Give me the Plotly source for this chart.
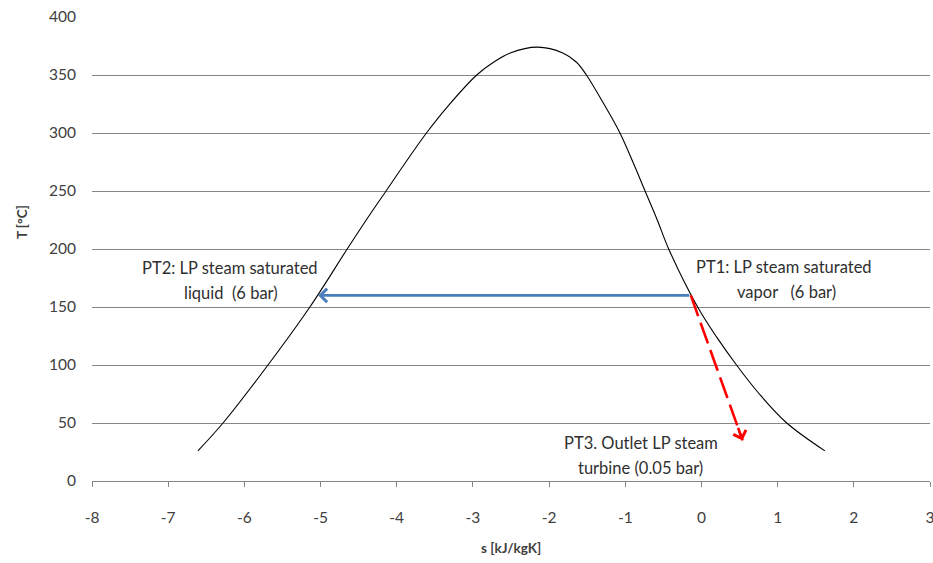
import plotly.graph_objects as go

# Saturation dome of water (T-s diagram), entropy on a shifted reference
dome_s = [-6.61, -6.28, -5.69, -5.14, -4.65, -4.40, -4.14, -3.88, -3.61, -3.33,
          -2.95, -2.73, -2.51, -2.15, -1.82, -1.64, -1.51, -1.29, -1.07, -0.90,
          -0.74, -0.58, -0.43, -0.05, 0.20, 0.46, 0.76, 1.12, 1.62]
dome_T = [26, 50, 100, 150, 200, 225, 250, 275, 300, 323,
          350, 361, 369, 374, 369, 361, 350, 326, 300, 275,
          250, 225, 200, 150, 124, 100, 75, 50, 26]

# State points
pt1 = (-0.14, 160)   # LP steam saturated vapor (6 bar)
pt2 = (-5.03, 160)   # LP steam saturated liquid (6 bar)
pt3 = (0.54, 35)     # outlet LP steam turbine (0.05 bar)

x_ticks = [-8, -7, -6, -5, -4, -3, -2, -1, 0, 1, 2, 3]
y_ticks = [0, 50, 100, 150, 200, 250, 300, 350, 400]

FONT = "Lato"
TXT = "#404040"
LBL = "#2f2f2f"
BLUE = "#4a7ebb"
RED = "#ff0000"

fig = go.Figure()

fig.add_trace(go.Scatter(
    x=dome_s, y=dome_T, mode="lines",
    line=dict(color="#000000", width=1.1, shape="spline", smoothing=1.0),
    hoverinfo="skip", showlegend=False,
))

# Expansion line through the turbine (dashed)
fig.add_trace(go.Scatter(
    x=[pt1[0], pt3[0]], y=[pt1[1], pt3[1]], mode="lines",
    line=dict(color=RED, width=2.6, dash="22px,7px"),
    hoverinfo="skip", showlegend=False,
))

annotations = []

# Condensation arrow PT1 -> PT2
annotations.append(dict(
    x=pt2[0], y=pt2[1], ax=pt1[0], ay=pt1[1], xref="x", yref="y",
    axref="x", ayref="y", text="", showarrow=True,
    arrowhead=4, arrowsize=1.0, arrowwidth=2.6, arrowcolor=BLUE,
))

# Arrowhead at the end of the dashed expansion line
annotations.append(dict(
    x=pt3[0], y=pt3[1], ax=-5, ay=-14, xref="x", yref="y",
    text="", showarrow=True,
    arrowhead=4, arrowsize=1.0, arrowwidth=2.6, arrowcolor=RED,
))

labels = [
    (-6.19, 183.5, "PT2: LP steam saturated"),
    (-6.17, 162.0, "liquid  (6 bar)"),
    (1.09, 184.5, "PT1: LP steam saturated"),
    (1.12, 163.0, "vapor   (6 bar)"),
    (-0.80, 32.5, "PT3. Outlet LP steam"),
    (-0.80, 11.0, "turbine (0.05 bar)"),
]
for lx, ly, lt in labels:
    annotations.append(dict(
        x=lx, y=ly, xref="x", yref="y", text=lt, showarrow=False,
        font=dict(family=FONT, size=16.5, color=LBL),
        xanchor="center", yanchor="middle",
    ))

# Axis titles
annotations.append(dict(
    x=0.5, y=-0.144, xref="paper", yref="paper", text="<b>s [kJ/kgK]</b>",
    showarrow=False, xanchor="center", yanchor="middle",
    font=dict(family=FONT, size=13.5, color=TXT),
))
annotations.append(dict(
    x=-0.0835, y=0.558, xref="paper", yref="paper", text="<b>T [°C]</b>",
    showarrow=False, xanchor="center", yanchor="middle", textangle=-90,
    font=dict(family=FONT, size=13.5, color=TXT),
))

fig.update_layout(
    width=933, height=563,
    margin=dict(l=92, r=3, t=17, b=82, autoexpand=False),
    paper_bgcolor="white", plot_bgcolor="white",
    font=dict(family=FONT, size=15, color=TXT),
    annotations=annotations,
    showlegend=False,
)

fig.update_xaxes(
    range=[-8, 3], tickvals=x_ticks, ticktext=[str(v) for v in x_ticks],
    showgrid=False, zeroline=False, automargin=False,
    showline=True, linecolor="#868686", linewidth=1,
    ticks="outside", ticklen=5, tickcolor="#868686",
    ticklabelstandoff=17, ticklabeloverflow="allow",
    tickfont=dict(family=FONT, size=15.5, color=TXT),
)

fig.update_yaxes(
    range=[0, 400], tickvals=y_ticks, ticktext=[str(v) for v in y_ticks],
    showgrid=True, gridcolor="#868686", gridwidth=1,
    zeroline=False, showline=False, ticks="", automargin=False,
    ticklabelstandoff=15,
    tickfont=dict(family=FONT, size=15.5, color=TXT),
)

fig.write_html("out.html")
